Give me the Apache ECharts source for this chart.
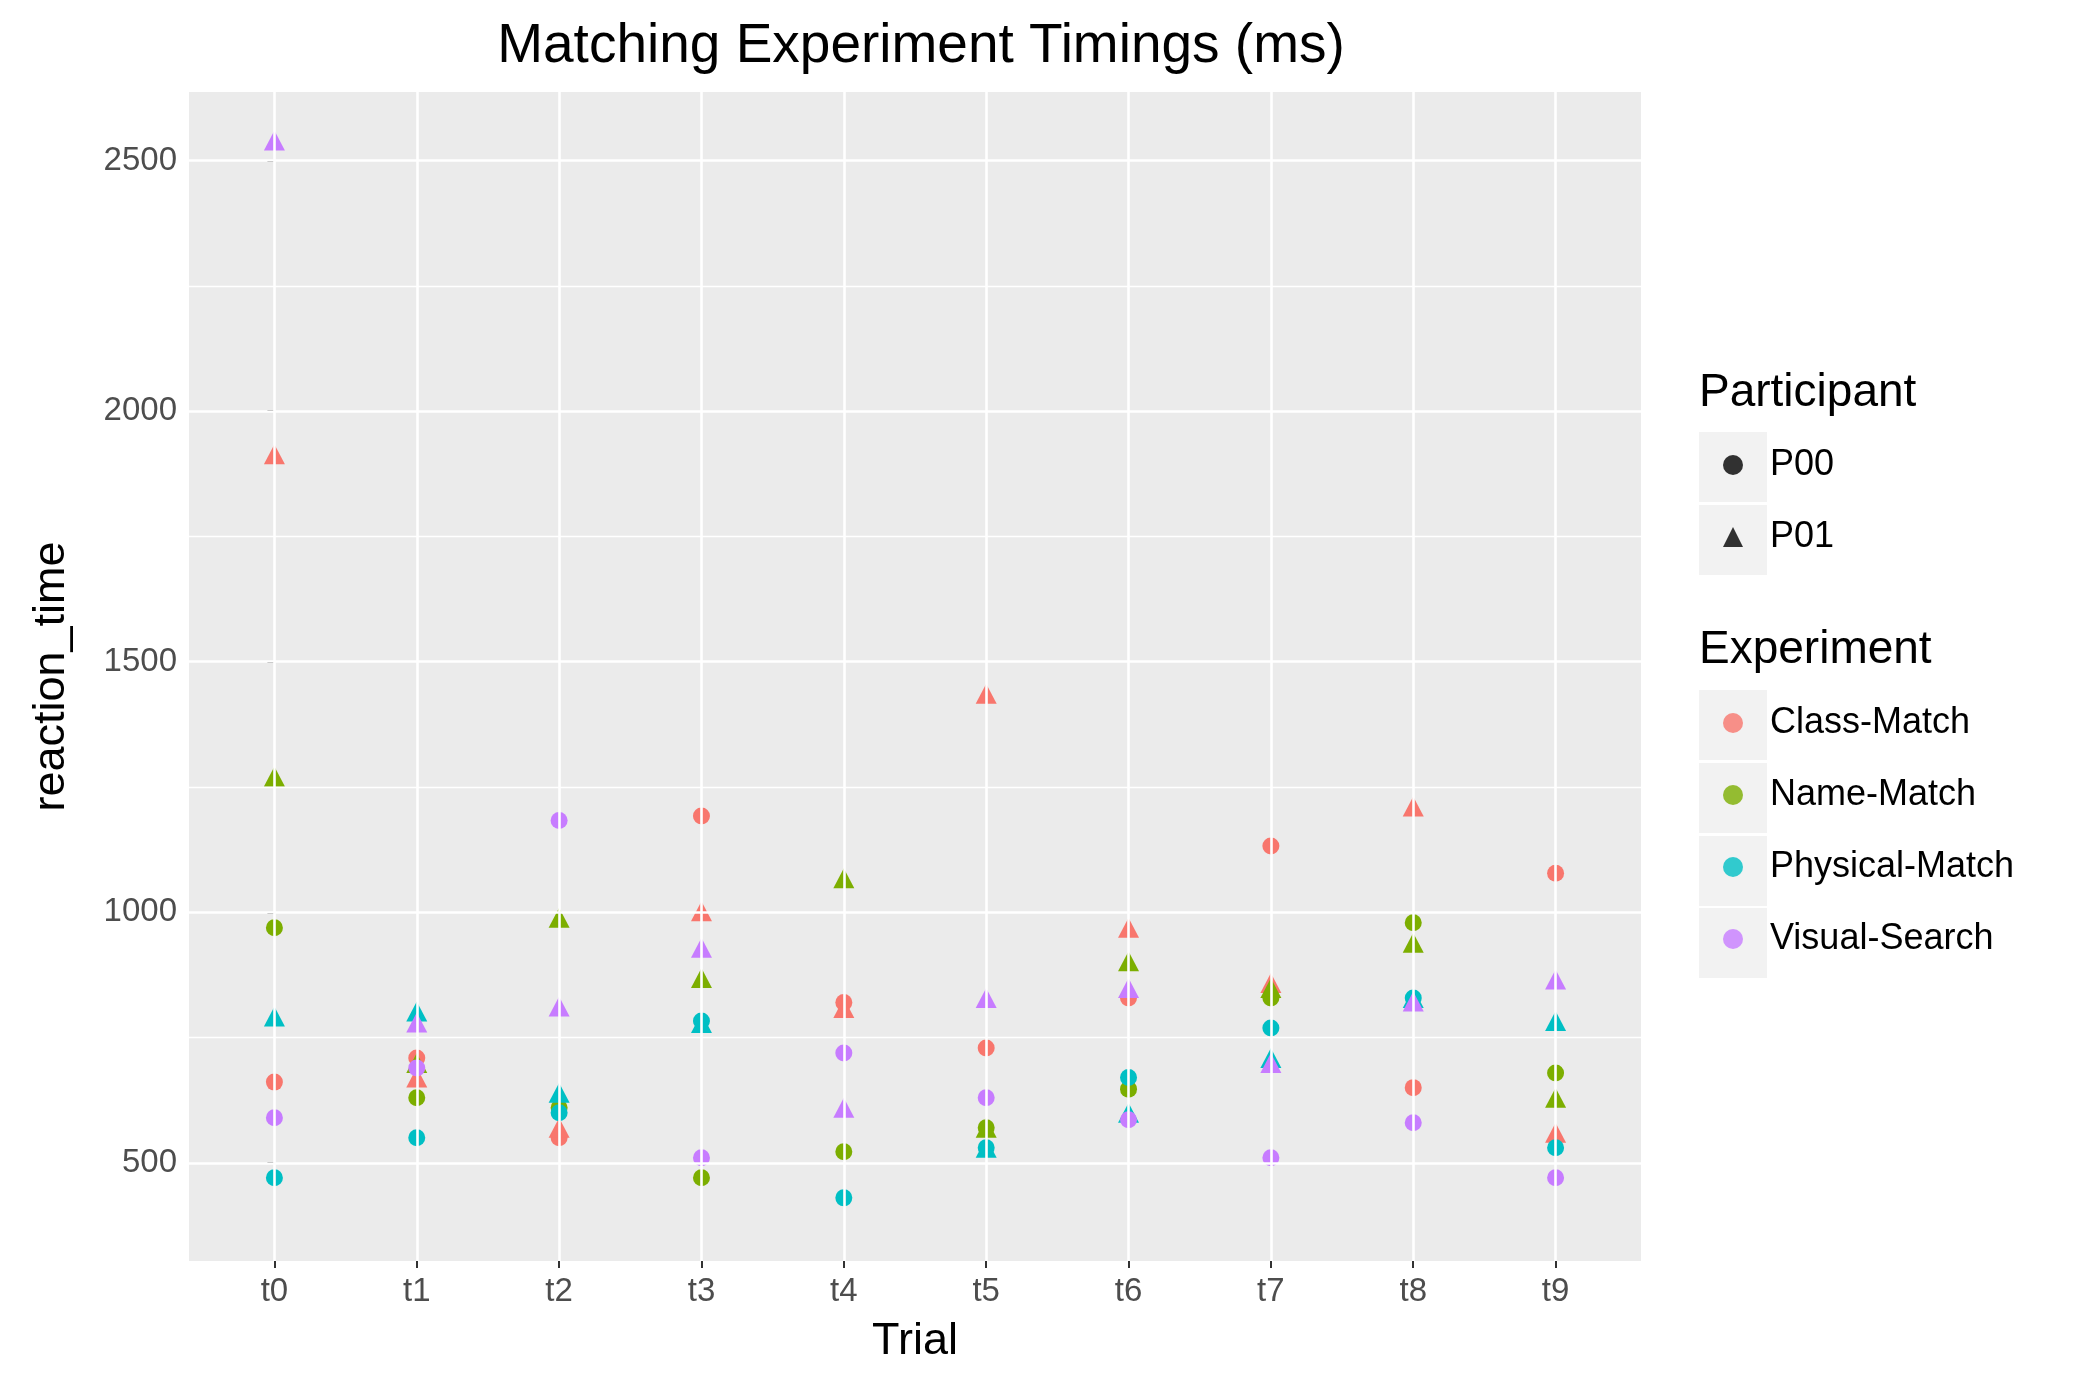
<!DOCTYPE html>
<html>
<head>
<meta charset="utf-8">
<script src="https://cdn.jsdelivr.net/npm/echarts@6/dist/echarts.min.js"></script>
<style>html,body{margin:0;padding:0;background:#fff}#chart{width:2100px;height:1384px}</style>
</head>
<body>
<div id="chart"></div>
<script>
var trials = ['t0', 't1', 't2', 't3', 't4', 't5', 't6', 't7', 't8', 't9'];
var experiments = ['Class-Match', 'Name-Match', 'Physical-Match', 'Visual-Search'];
var participants = ['P00', 'P01'];
var colors = ['#F8766D', '#7CAE00', '#00BFC4', '#C77CFF'];

// reaction times (ms) per trial
var classP00 = [661, 709, 550, 1192, 820, 729, 829, 1132, 650, 1078];
var classP01 = [1914, 670, 570, 1002, 809, 1436, 969, 859, 1211, 560];
var nameP00 = [969, 630, 610, 470, 522, 570, 647, 829, 979, 679];
var nameP01 = [1271, 699, 989, 869, 1068, 570, 902, 849, 939, 630];
var physP00 = [470, 550, 600, 783, 430, 530, 670, 769, 829, 530];
var physP01 = [792, 802, 640, 779, null, 530, 600, 709, 829, 783];
var visP00 = [590, 689, 1183, 510, 719, 630, 586, 510, 580, 470];
var visP01 = [2540, 780, 812, 929, 610, 829, 849, 699, 822, 866];

var yMajor = [500, 1000, 1500, 2000, 2500];
var yMinor = [750, 1250, 1750, 2250];
var xTicks = [0, 1, 2, 3, 4, 5, 6, 7, 8, 9];

var values = [[classP00, classP01], [nameP00, nameP01], [physP00, physP01], [visP00, visP01]];
var font = 'Liberation Sans, Arial, sans-serif';

var toPoints = function (arr) {
    var out = [];
    for (var i = 0; i < arr.length; i++) {
        if (arr[i] != null) out.push([i, arr[i]]);
    }
    return out;
};

var series = [];
var lines = [];
yMajor.forEach(function (v) { lines.push({yAxis: v, lineStyle: {width: 2.6}}); });
yMinor.forEach(function (v) { lines.push({yAxis: v, lineStyle: {width: 1.4}}); });
xTicks.forEach(function (v) { lines.push({xAxis: v, lineStyle: {width: 2.6}}); });
series.push({
    type: 'scatter', data: [], z: 1, silent: true,
    markLine: {silent: true, symbol: 'none', label: {show: false}, animation: false,
        lineStyle: {color: '#FFFFFF', type: 'solid'}, data: lines}
});
for (var e = 0; e < experiments.length; e++) {
    for (var p = 0; p < participants.length; p++) {
        series.push({
            name: experiments[e] + ' / ' + participants[p],
            type: 'scatter', z: 3,
            symbol: p == 0 ? 'circle' : 'triangle',
            symbolSize: p == 0 ? 17 : [21, 20],
            itemStyle: {color: colors[e], opacity: 1},
            data: toPoints(values[e][p])
        });
    }
}
// legend-only series
series.push({name: 'P00', type: 'scatter', data: [], symbol: 'circle', itemStyle: {color: '#000'}});
series.push({name: 'P01', type: 'scatter', data: [], symbol: 'triangle', itemStyle: {color: '#000'}});
experiments.forEach(function (n, i) {
    series.push({name: n, type: 'scatter', data: [], itemStyle: {color: colors[i]}});
});

var keyBoxes = [];
[467, 540, 725, 798, 871, 943].forEach(function (cy) {
    keyBoxes.push({type: 'rect', left: 1699, top: cy - 35, z: 0,
        shape: {width: 68, height: 70}, style: {fill: '#F2F2F2'}});
});

var chart = echarts.init(document.getElementById('chart'));
chart.setOption({
    animation: false,
    textStyle: {fontFamily: font},
    title: {text: 'Matching Experiment Timings (ms)', left: 916, textAlign: 'center', top: 14,
        textStyle: {fontSize: 55, fontWeight: 'normal', color: '#000'}},
    grid: {left: 189, right: 459, top: 92, bottom: 123, show: true,
        backgroundColor: '#EBEBEB', borderWidth: 0},
    xAxis: {
        type: 'value', min: -0.6, max: 9.6,
        name: 'Trial', nameLocation: 'middle', nameGap: 58,
        nameTextStyle: {fontSize: 45, color: '#000'},
        axisLine: {show: false},
        axisTick: {show: true, length: 7, customValues: xTicks, lineStyle: {color: '#333', width: 2}},
        axisLabel: {customValues: xTicks, fontSize: 33, color: '#4D4D4D', margin: 14,
            formatter: function (v) { return trials[v]; }},
        splitLine: {show: false}
    },
    yAxis: {
        type: 'value', min: 304, max: 2637,
        name: 'reaction_time', nameLocation: 'middle', nameGap: 115,
        nameTextStyle: {fontSize: 45, color: '#000'},
        axisLine: {show: false},
        axisTick: {show: true, length: 7, customValues: yMajor, lineStyle: {color: '#333', width: 2}},
        axisLabel: {customValues: yMajor, fontSize: 33, color: '#4D4D4D', margin: 12,
            formatter: function (v) { return String(v); }},
        splitLine: {show: false}
    },
    legend: [{
        data: ['P00', 'P01'], orient: 'vertical', left: 1723, top: 447, padding: 0,
        itemWidth: 20, itemHeight: 20, itemGap: 36, selectedMode: false,
        textStyle: {fontSize: 36, color: '#000', padding: [0, 0, 0, 22]}
    }, {
        data: experiments, orient: 'vertical', left: 1723, top: 705, padding: 0,
        itemWidth: 20, itemHeight: 20, itemGap: 36, selectedMode: false,
        icon: 'circle',
        textStyle: {fontSize: 36, color: '#000', padding: [0, 0, 0, 22]}
    }],
    graphic: keyBoxes.concat([
        {type: 'text', left: 1699, top: 370, style: {text: 'Participant', fontSize: 46, fill: '#000', fontFamily: font}},
        {type: 'text', left: 1699, top: 627, style: {text: 'Experiment', fontSize: 46, fill: '#000', fontFamily: font}}
    ]),
    series: series
});
</script>
</body>
</html>
